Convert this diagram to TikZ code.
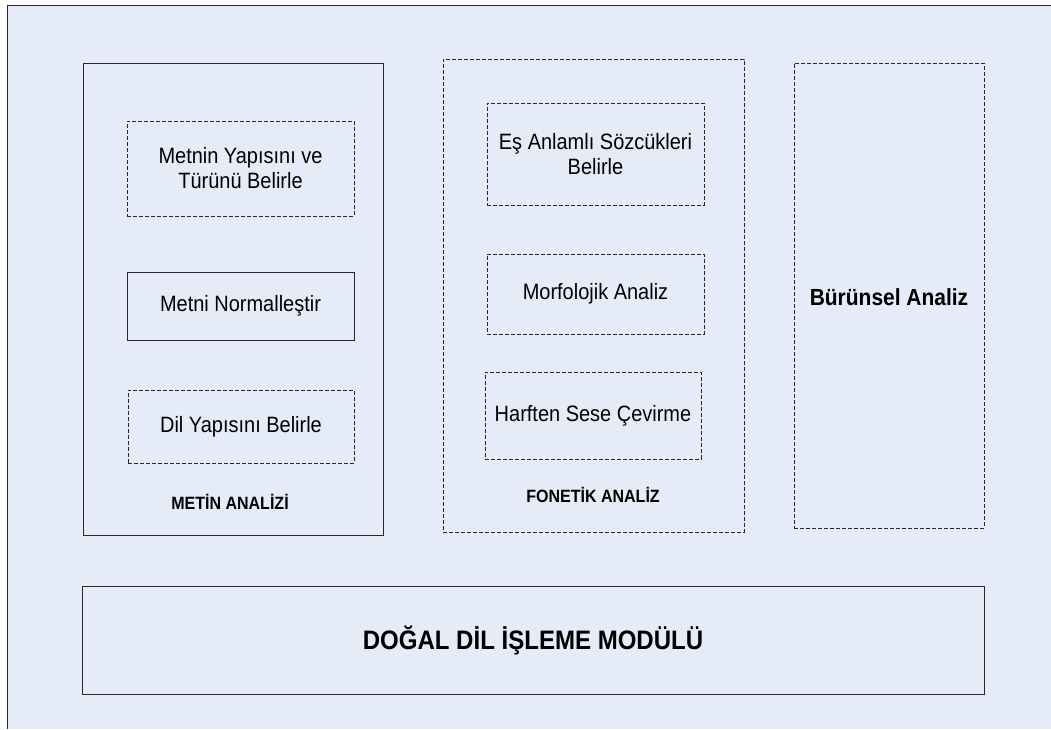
\documentclass[tikz,border=0pt]{standalone}
\usepackage{fontspec}
\setmainfont{Liberation Sans}[FakeStretch=0.9]
\definecolor{panelbg}{RGB}{230,236,247}
\definecolor{edge}{RGB}{40,40,40}
\begin{document}
\begin{tikzpicture}[x=1pt,y=-1pt,
  solidbox/.style={draw=edge, line width=0.9pt, rectangle, inner sep=0pt, align=center},
  dashbox/.style={draw=edge, line width=0.9pt, dash pattern=on 4pt off 2pt, rectangle, inner sep=0pt, align=center},
  body/.style={font=\fontsize{22.2}{25}\selectfont},
  caption/.style={font=\fontsize{17.8}{20}\selectfont\bfseries, inner sep=0pt},
  title/.style={font=\fontsize{26.7}{30}\selectfont\bfseries}]
  \useasboundingbox (0,0) rectangle (1051,729);
  % sheet and its frame
  \fill[panelbg] (7,5) rectangle (1051,729);
  \draw[edge, line width=1pt] (7,729) -- (7,5) -- (1051,5);

  % text analysis group
  \node[solidbox, minimum width=300pt, minimum height=472pt] (metin) at (233,299) {};
  \node[dashbox, body, minimum width=227pt, minimum height=95pt] (yapi) at (240.5,168.5) {Metnin Yapısını ve\\Türünü Belirle};
  \node[solidbox, body, minimum width=227pt, minimum height=68pt] (norm) at (240.5,306) {Metni Normalleştir};
  \node[dashbox, body, minimum width=226pt, minimum height=73pt] (dil) at (241,426.5) {Dil Yapısını Belirle};
  \node[caption] (metinlbl) at (230,502) {METİN ANALİZİ};

  % phonetic analysis group
  \node[dashbox, minimum width=301pt, minimum height=473pt] (fonetik) at (593.5,295.5) {};
  \node[dashbox, body, minimum width=217pt, minimum height=102pt] (esanlam) at (595.5,154) {Eş Anlamlı Sözcükleri\\Belirle};
  \node[dashbox, body, minimum width=217pt, minimum height=80pt] (morf) at (595.5,294) {Morfolojik Analiz};
  \node[dashbox, body, minimum width=216pt, minimum height=87pt] (harf) at (593,415.5) {Harften Sese Çevirme};
  \node[caption] (fonlbl) at (593,495) {FONETİK ANALİZ};

  % prosodic analysis
  \node[dashbox, minimum width=190pt, minimum height=465pt] (burun) at (889,295.5) {};
  \node[font=\fontsize{23.3}{26}\selectfont\bfseries] (burunlbl) at (889,297) {Bürünsel Analiz};

  % bottom module
  \node[solidbox, title, minimum width=902pt, minimum height=108pt] (dogal) at (533,640) {DOĞAL DİL İŞLEME MODÜLÜ};
\end{tikzpicture}
\end{document}
